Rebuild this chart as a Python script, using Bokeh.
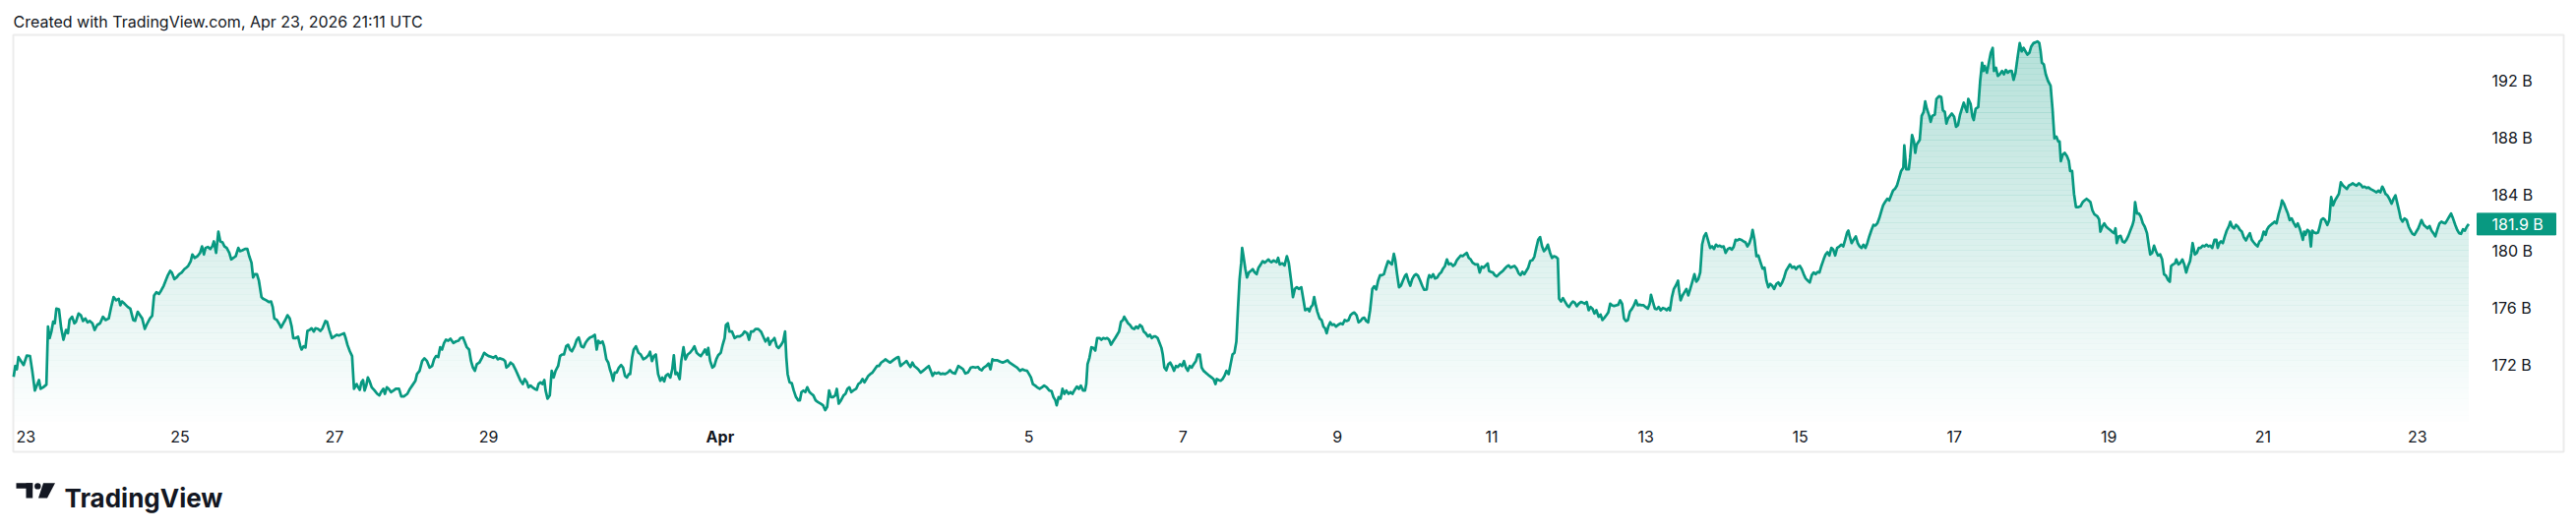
import numpy as np
from bokeh.plotting import figure
from bokeh.models import ColumnDataSource, Range1d
from bokeh.core.properties import value
from bokeh.embed import file_html
from bokeh.resources import INLINE

# ---- data: (hours since 2026-03-23 00:00, market cap in billions) ----
SEG_MAR23_26 = [
    (-3.8, 171.14), (-3.3, 171.90), (-2.8, 171.67), (-2.3, 172.53), (-1.5, 172.25), (-0.7, 171.97),
    (0.3, 172.64), (1.3, 172.60), (2.0, 171.56), (2.8, 170.17), (3.6, 170.63), (4.1, 170.91),
    (4.6, 170.29), (5.4, 170.40), (6.4, 170.59), (6.9, 174.68), (7.4, 173.87), (8.0, 174.37),
    (8.5, 175.02), (9.0, 174.91), (9.5, 175.94), (10.3, 175.90), (11.0, 174.56), (11.7, 173.75),
    (12.5, 174.44), (13.1, 174.21), (13.6, 175.14), (14.4, 175.37), (15.1, 174.91), (15.6, 175.02),
    (16.4, 175.60), (17.1, 175.48), (17.8, 175.07), (18.5, 175.25), (19.2, 174.97), (19.9, 175.07),
    (20.7, 174.91), (21.4, 174.44), (22.2, 174.79), (23.1, 174.91), (24.0, 175.37), (24.8, 175.14),
    (25.8, 175.25), (26.5, 176.00), (27.3, 176.76), (28.1, 176.53), (28.9, 176.64), (29.4, 176.18),
    (29.9, 176.45), (30.7, 176.29), (31.7, 176.06), (32.5, 175.94), (33.4, 175.14), (34.0, 175.09),
    (34.8, 175.72), (35.5, 175.48), (36.2, 175.25), (37.0, 174.51), (37.8, 174.91), (38.6, 175.25),
    (39.3, 175.44), (39.9, 176.87), (40.6, 177.10), (41.4, 176.98), (42.1, 177.22), (42.9, 177.56),
    (43.5, 177.91), (44.2, 178.30), (44.9, 178.60), (45.4, 178.49), (46.2, 178.02), (46.9, 178.14),
    (47.7, 178.37), (48.5, 178.49), (49.3, 178.72), (49.9, 178.83), (50.5, 178.95), (51.3, 179.29),
    (51.8, 179.76), (52.5, 179.52), (53.4, 179.64), (54.2, 179.87), (54.8, 180.33), (55.4, 179.76),
    (55.9, 180.22), (56.6, 180.29), (57.4, 180.15), (58.0, 180.33), (58.5, 180.68), (59.2, 179.87),
    (59.9, 181.37), (60.5, 180.68), (61.2, 180.61), (61.8, 180.33), (62.5, 180.22), (63.3, 179.87),
    (63.9, 179.41), (64.6, 179.52), (65.3, 179.64), (66.1, 180.22), (66.6, 179.99), (67.4, 180.06),
    (68.2, 180.15), (68.9, 180.15), (69.5, 179.64), (70.2, 179.18), (70.7, 178.14), (71.2, 178.37),
    (71.9, 178.37), (72.5, 177.91), (73.3, 176.76), (73.8, 176.64), (74.8, 176.53), (75.6, 176.41),
    (76.3, 176.45), (76.8, 176.06), (77.3, 175.25), (78.1, 175.14), (78.9, 174.84), (79.4, 174.61),
    (80.1, 174.91), (80.7, 175.14), (81.4, 175.48), (82.1, 175.25), (82.7, 174.68), (83.2, 173.87),
    (84.0, 173.87), (84.7, 173.96), (85.4, 173.29), (85.8, 173.06), (86.4, 173.29), (87.0, 173.20),
    (87.6, 174.37), (88.3, 174.44), (88.9, 174.56), (89.6, 174.33),
]
SEG_MAR26_30 = [
    (90.1, 174.56), (90.9, 174.51), (91.6, 174.37), (92.3, 174.56), (93.2, 175.07), (93.7, 175.02),
    (94.4, 174.44), (95.2, 173.87), (96.0, 173.98), (96.7, 174.10), (97.4, 174.05), (98.3, 174.14),
    (99.0, 174.21), (99.5, 173.87), (100.1, 173.36), (100.8, 172.94), (101.5, 172.60), (102.1, 170.29),
    (102.9, 170.63), (103.4, 170.40), (103.9, 170.22), (104.4, 170.75), (104.9, 170.91), (105.4, 170.17),
    (105.9, 170.52), (106.4, 171.09), (106.9, 170.86), (107.6, 170.40), (108.5, 170.17), (109.3, 169.94),
    (110.0, 169.83), (110.5, 170.06), (111.2, 170.29), (111.7, 169.94), (112.3, 170.40), (112.9, 170.29),
    (113.6, 170.06), (114.4, 170.17), (115.1, 170.29), (116.1, 170.29), (116.8, 169.76), (117.6, 169.76),
    (118.7, 169.94), (119.5, 170.29), (120.2, 170.52), (121.2, 170.86), (121.7, 171.33), (122.5, 171.56),
    (123.3, 172.25), (124.0, 172.44), (124.8, 172.25), (125.6, 171.79), (126.4, 171.90), (127.0, 172.37),
    (127.6, 172.60), (128.3, 172.53), (128.9, 173.22), (129.5, 173.06), (130.1, 173.52), (130.7, 173.75),
    (131.4, 173.68), (132.1, 173.82), (133.0, 173.52), (133.8, 173.63), (134.6, 173.68), (135.2, 173.87),
    (136.0, 173.91), (136.5, 173.63), (137.2, 173.22), (137.9, 173.06), (138.5, 172.25), (139.1, 171.79),
    (139.7, 171.56), (140.3, 172.02), (141.1, 172.14), (141.9, 172.48), (142.6, 172.83), (143.2, 172.71),
    (144.0, 172.60), (144.7, 172.55), (145.4, 172.48), (146.2, 172.60), (146.8, 172.37), (147.4, 172.44),
    (148.5, 172.37), (149.1, 172.25), (149.5, 171.79), (150.1, 171.90), (150.8, 172.14), (151.5, 172.02),
    (152.3, 171.67), (153.2, 171.21), (153.9, 170.86), (154.6, 170.63), (155.2, 170.98), (155.9, 170.75),
    (156.4, 170.40), (157.0, 170.52), (157.6, 170.40), (158.3, 170.29), (159.0, 170.22), (159.5, 170.63),
    (160.1, 170.75), (160.7, 170.63), (161.3, 170.91), (161.7, 170.17), (162.3, 169.60), (163.0, 169.83),
    (163.6, 171.56), (164.2, 171.09), (164.8, 171.56), (165.6, 171.90), (166.2, 172.60), (166.8, 172.71),
    (167.4, 172.71), (168.1, 173.29), (168.7, 173.40), (169.3, 173.06), (169.9, 172.94), (170.7, 173.29),
    (171.4, 173.75), (172.0, 173.91), (172.8, 173.29), (173.5, 173.22), (174.1, 173.52), (174.8, 173.75),
    (175.5, 173.91), (176.3, 173.98), (177.0, 174.10), (177.6, 173.06), (178.1, 173.68), (178.7, 173.52),
    (179.4, 173.63), (179.9, 173.29), (180.6, 172.37), (181.2, 172.14), (181.7, 171.67), (182.2, 171.33),
    (182.7, 170.86), (183.2, 171.44), (183.8, 171.44), (184.5, 171.79), (185.2, 171.97), (185.8, 171.79),
    (186.4, 171.21), (187.0, 171.09), (187.6, 171.33),
]
SEG_MAR30_APR04 = [
    (188.0, 171.33), (188.6, 172.48), (189.1, 173.06), (189.8, 173.29), (190.6, 172.83), (191.3, 172.71),
    (192.1, 172.37), (192.9, 172.48), (193.7, 172.66), (194.2, 172.90), (194.8, 172.25), (195.4, 172.60),
    (196.0, 172.71), (196.7, 171.33), (197.4, 170.86), (198.0, 171.09), (198.6, 170.82), (199.1, 171.21),
    (199.8, 171.33), (200.5, 171.09), (201.1, 171.67), (201.6, 172.66), (202.1, 171.33), (202.6, 171.44),
    (203.4, 170.98), (203.9, 172.25), (204.6, 173.22), (205.2, 172.37), (205.9, 172.71), (206.6, 172.83),
    (207.4, 173.06), (208.0, 173.29), (208.7, 172.83), (209.3, 172.71), (210.0, 172.60), (210.7, 172.83),
    (211.3, 173.06), (211.9, 172.71), (212.3, 173.17), (212.9, 172.25), (213.6, 171.79), (214.2, 171.90),
    (214.8, 172.37), (215.4, 172.66), (216.2, 172.83), (216.8, 173.40), (217.4, 173.87), (217.8, 174.79),
    (218.4, 174.91), (218.9, 174.33), (219.7, 174.33), (220.5, 173.87), (221.3, 173.98), (222.1, 173.98),
    (222.9, 174.10), (223.6, 174.33), (224.4, 174.21), (225.0, 173.75), (225.6, 174.33), (226.3, 174.33),
    (227.0, 174.51), (227.8, 174.51), (228.7, 174.33), (229.4, 173.98), (230.1, 173.63), (230.9, 173.87),
    (231.4, 173.40), (231.9, 173.63), (232.5, 173.75), (232.9, 173.87), (233.6, 173.29), (234.2, 173.17),
    (235.0, 173.40), (235.6, 173.63), (236.2, 174.33), (236.6, 172.48), (237.0, 171.33), (237.6, 170.75),
    (238.3, 170.68), (238.9, 170.17), (239.6, 169.71), (240.3, 169.48), (240.8, 169.48), (241.3, 170.06),
    (241.9, 170.17), (242.5, 170.06), (243.1, 170.40), (243.8, 170.06), (244.4, 169.94), (245.0, 169.83),
    (245.7, 169.48), (246.4, 169.36), (247.2, 169.25), (248.0, 169.13), (248.7, 168.79), (249.3, 169.02),
    (249.9, 170.17), (250.5, 169.71), (251.1, 169.71), (251.8, 169.83), (252.3, 170.29), (252.9, 169.25),
    (253.6, 169.48), (254.4, 169.83), (255.0, 169.94), (255.6, 170.29), (256.2, 170.40), (256.8, 170.06),
    (257.4, 170.17), (258.3, 170.29), (259.0, 170.63), (259.7, 170.75), (260.3, 170.98), (260.9, 170.75),
    (261.5, 170.98), (262.1, 171.21), (262.7, 171.33), (263.4, 171.44), (264.1, 171.67), (264.8, 171.90),
    (265.4, 171.90), (266.1, 172.14), (266.8, 172.25), (267.4, 172.37), (268.1, 172.25), (268.9, 172.14),
    (269.5, 172.25), (270.2, 172.37), (270.9, 172.48), (271.5, 172.53), (272.1, 171.90), (272.7, 172.02),
    (273.4, 172.14), (274.0, 172.25), (274.6, 172.02), (275.2, 171.83), (275.8, 172.14), (276.4, 171.90),
    (277.0, 171.79), (277.6, 171.67), (278.4, 171.44), (279.1, 171.56), (279.7, 171.67), (280.3, 171.79),
    (280.9, 171.90), (281.5, 171.56), (282.1, 171.21), (282.7, 171.44), (283.3, 171.37), (284.0, 171.44),
    (284.6, 171.33), (285.2, 171.37),
]
SEG_APR04_08 = [
    (286.0, 171.33), (286.8, 171.44), (287.5, 171.60), (288.2, 171.44), (289.1, 171.37), (290.1, 171.90),
    (290.9, 171.79), (291.6, 171.67), (292.3, 171.37), (293.1, 171.44), (294.0, 171.79), (294.7, 171.83),
    (295.4, 171.79), (296.2, 171.83), (296.8, 171.67), (297.4, 171.60), (298.0, 171.79), (298.8, 171.90),
    (299.5, 172.07), (300.1, 171.67), (300.7, 172.37), (301.3, 172.30), (302.3, 172.30), (303.1, 172.21),
    (303.9, 172.14), (304.6, 172.21), (305.4, 172.30), (306.0, 172.14), (306.8, 172.02), (307.6, 171.90),
    (308.4, 171.79), (309.3, 171.56), (310.0, 171.67), (310.7, 171.60), (311.5, 171.56), (312.1, 171.33),
    (312.7, 171.09), (313.3, 170.63), (314.0, 170.52), (314.6, 170.40), (315.4, 170.29), (316.1, 170.40),
    (316.8, 170.52), (317.6, 170.40), (318.4, 170.17), (319.1, 170.13), (319.7, 169.71), (320.3, 169.48),
    (320.7, 169.13), (321.3, 169.71), (321.9, 169.60), (322.5, 170.29), (323.1, 169.94), (323.7, 170.17),
    (324.4, 169.94), (325.0, 170.06), (325.6, 169.94), (326.3, 170.22), (327.0, 170.45), (327.6, 170.29),
    (328.2, 170.52), (328.9, 170.17), (329.5, 170.17), (329.9, 170.63), (330.3, 172.02), (330.9, 172.48),
    (331.5, 173.22), (332.1, 173.17), (332.7, 172.99), (333.3, 173.87), (334.0, 173.87), (334.6, 173.75),
    (335.2, 173.87), (335.8, 173.82), (336.4, 173.87), (337.0, 173.75), (337.6, 173.40), (338.2, 173.63),
    (338.9, 173.87), (339.5, 174.10), (340.1, 174.33), (340.7, 175.02), (341.3, 175.14), (341.7, 175.37),
    (342.3, 175.14), (342.9, 174.91), (343.5, 174.79), (344.2, 174.56), (344.8, 174.51), (345.4, 174.68),
    (346.0, 174.56), (346.6, 174.79), (347.2, 174.68), (347.8, 174.33), (348.4, 174.21), (349.1, 173.98),
    (349.7, 174.10), (350.3, 173.87), (350.9, 173.98), (351.5, 173.98), (352.1, 173.87), (352.7, 173.52),
    (353.3, 173.17), (353.7, 172.71), (354.2, 171.79), (354.8, 171.60), (355.4, 172.02), (356.0, 172.14),
    (356.6, 171.90), (357.2, 171.56), (357.8, 171.90), (358.4, 171.83), (359.1, 172.02), (359.7, 171.90),
    (360.3, 172.25), (360.9, 171.79), (361.5, 171.56), (362.1, 171.90), (362.7, 171.79), (363.3, 172.02),
    (364.0, 172.25), (364.6, 172.71), (365.2, 172.71), (365.8, 171.79), (366.4, 171.56), (367.0, 171.44),
    (367.6, 171.33), (368.2, 171.21), (368.9, 171.09), (369.5, 170.98), (370.1, 170.63), (370.5, 170.98),
    (371.1, 170.91), (371.7, 170.86), (372.3, 170.98), (372.9, 171.21), (373.5, 171.56), (374.2, 171.33),
    (374.8, 172.02), (375.4, 172.71), (376.0, 172.83), (376.6, 173.63), (377.1, 175.94), (377.6, 178.02),
    (378.1, 179.18), (378.4, 180.22), (378.8, 179.64), (379.4, 178.72), (379.9, 178.14), (380.5, 178.49),
    (381.1, 178.60), (381.7, 178.72), (382.3, 178.49), (382.9, 178.37), (383.5, 178.83), (384.2, 179.06),
    (384.8, 179.29), (385.4, 179.18), (386.0, 179.29), (386.6, 179.41), (387.0, 179.29),
]
SEG_APR08_12 = [
    (387.5, 179.22), (388.2, 179.34), (389.1, 179.22), (389.6, 179.52), (390.1, 179.06), (390.9, 179.13),
    (391.6, 178.99), (392.3, 179.64), (392.9, 179.18), (393.7, 177.79), (394.2, 176.76), (394.8, 177.33),
    (395.4, 177.45), (396.0, 177.33), (396.8, 177.45), (397.4, 176.64), (398.0, 175.83), (398.8, 175.94),
    (399.3, 175.76), (399.8, 176.06), (400.3, 176.18), (400.8, 176.76), (401.3, 176.18), (401.8, 175.72),
    (402.5, 175.25), (403.1, 175.14), (403.7, 174.68), (404.2, 174.56), (404.7, 174.21), (405.2, 174.68),
    (405.8, 174.98), (406.4, 174.79), (407.0, 174.84), (407.6, 174.68), (408.2, 174.79), (409.0, 174.91),
    (409.7, 174.84), (410.3, 175.14), (410.9, 175.07), (411.5, 175.14), (412.1, 175.48), (412.7, 175.60),
    (413.3, 175.67), (414.0, 175.48), (414.6, 174.98), (415.2, 175.07), (415.8, 175.25), (416.4, 175.30),
    (417.0, 175.07), (417.6, 174.98), (418.2, 175.83), (418.9, 177.33), (419.5, 177.52), (420.1, 177.29),
    (420.7, 177.91), (421.3, 178.30), (421.9, 178.30), (422.5, 178.37), (423.1, 178.83), (423.8, 179.29),
    (424.4, 179.18), (425.0, 179.06), (425.6, 179.80), (426.0, 179.41), (426.6, 178.37), (427.2, 177.45),
    (427.8, 177.56), (428.4, 177.91), (429.1, 178.26), (429.5, 178.37), (430.1, 177.91), (430.7, 177.56),
    (431.3, 178.02), (431.9, 178.26), (432.5, 178.37), (433.1, 178.26), (433.8, 177.91), (434.4, 177.56),
    (435.0, 177.27), (435.8, 177.29), (436.2, 177.98), (436.6, 178.30), (437.2, 178.14), (437.8, 178.37),
    (438.4, 178.07), (439.1, 178.14), (439.7, 178.37), (440.3, 178.49), (440.9, 178.76), (441.5, 178.95),
    (442.1, 179.41), (442.7, 179.06), (443.3, 179.13), (444.0, 178.95), (444.6, 179.06), (445.2, 179.36),
    (445.8, 179.52), (446.4, 179.69), (447.0, 179.64), (447.6, 179.76), (448.3, 179.87), (448.9, 179.52),
    (449.5, 179.41), (450.1, 179.18), (450.9, 179.06), (451.7, 179.06), (452.3, 178.49), (452.9, 178.90),
    (453.5, 178.83), (454.2, 178.99), (454.8, 179.13), (455.2, 178.60), (455.8, 178.53), (456.4, 178.49),
    (457.0, 178.30), (457.6, 178.21), (458.3, 178.37), (458.9, 178.49), (459.5, 178.60), (460.1, 178.76),
    (460.7, 178.90), (461.3, 178.99), (461.9, 178.83), (462.5, 178.90), (463.1, 178.95), (463.8, 178.76),
    (464.4, 178.44), (465.0, 178.30), (465.6, 178.53), (466.2, 178.37), (466.8, 178.60), (467.4, 178.83),
    (468.0, 179.29), (468.7, 179.36), (469.3, 179.60), (469.9, 180.22), (470.5, 180.79), (471.1, 180.98),
    (471.7, 180.33), (472.3, 179.99), (472.9, 180.15), (473.5, 180.45), (474.2, 179.87), (474.8, 179.52),
    (475.4, 179.64), (476.0, 179.59), (476.6, 179.46), (477.0, 176.64), (477.6, 176.45), (478.2, 176.69),
    (478.9, 176.41), (479.5, 176.18), (480.1, 176.06), (480.7, 176.29), (481.3, 176.45), (481.9, 176.36),
    (482.5, 176.11), (483.1, 176.29), (483.8, 176.41), (484.4, 176.36),
]
SEG_APR12_16 = [
    (485.0, 176.29), (485.6, 176.41), (486.2, 175.83), (486.8, 176.06), (487.4, 175.94), (488.0, 175.60),
    (488.6, 175.83), (489.3, 175.37), (489.9, 175.53), (490.5, 175.14), (491.1, 175.30), (491.7, 175.48),
    (492.3, 175.67), (492.9, 176.29), (493.5, 176.18), (494.1, 176.13), (494.8, 176.18), (495.4, 176.22),
    (496.0, 176.53), (496.6, 176.29), (497.2, 175.25), (497.8, 175.07), (498.4, 175.14), (499.0, 175.72),
    (499.7, 175.94), (500.3, 176.18), (500.9, 176.53), (501.5, 176.18), (502.1, 176.22), (502.7, 176.18),
    (503.3, 176.18), (503.9, 176.06), (504.6, 175.94), (505.2, 176.29), (505.6, 176.92), (506.2, 176.41),
    (506.8, 175.94), (507.4, 175.90), (508.0, 176.06), (508.6, 175.83), (509.3, 175.99), (509.9, 175.94),
    (510.5, 175.83), (511.1, 175.99), (511.5, 175.83), (512.1, 176.76), (512.7, 177.33), (513.3, 177.56),
    (514.0, 177.91), (514.4, 177.10), (514.8, 176.53), (515.4, 176.87), (516.0, 177.10), (516.6, 177.33),
    (517.2, 176.87), (517.8, 177.33), (518.4, 177.79), (519.1, 178.37), (519.7, 177.84), (520.3, 178.02),
    (520.9, 178.49), (521.5, 180.45), (522.1, 181.03), (522.7, 181.26), (523.3, 180.79), (524.0, 180.22),
    (524.6, 180.33), (525.2, 180.15), (525.8, 180.45), (526.4, 180.33), (527.0, 180.38), (527.6, 180.29),
    (528.2, 180.33), (528.8, 179.87), (529.5, 180.15), (530.1, 180.22), (530.7, 180.10), (531.3, 180.29),
    (531.9, 180.79), (532.5, 180.75), (533.1, 180.84), (533.7, 180.79), (534.4, 180.68), (535.0, 180.61),
    (535.6, 180.33), (536.2, 180.56), (536.8, 180.98), (537.2, 181.49), (537.8, 180.79), (538.4, 179.64),
    (539.0, 179.69), (539.7, 179.18), (540.3, 178.76), (540.9, 178.83), (541.5, 177.91), (542.1, 177.45),
    (542.7, 177.68), (543.3, 177.56), (543.9, 177.33), (544.6, 177.68), (545.2, 177.79), (545.8, 177.56),
    (546.4, 177.79), (547.0, 178.14), (547.6, 178.60), (548.2, 178.83), (548.8, 179.06), (549.5, 178.83),
    (550.1, 178.90), (550.7, 178.72), (551.3, 178.90), (551.9, 178.95), (552.5, 178.72), (553.1, 178.37),
    (553.7, 178.07), (554.4, 177.91), (555.0, 177.79), (555.6, 178.30), (556.2, 178.49), (556.8, 178.37),
    (557.4, 178.53), (558.0, 178.49), (558.6, 178.95), (559.3, 179.41), (559.9, 179.76), (560.5, 179.92),
    (561.1, 179.69), (561.7, 180.22), (562.3, 180.10), (562.9, 179.69), (563.5, 180.22), (564.2, 180.33),
    (564.8, 180.45), (565.4, 180.33), (566.0, 180.79), (566.6, 181.30), (567.0, 181.44), (567.4, 181.03),
    (568.0, 180.56), (568.6, 180.79), (569.3, 181.03), (569.9, 180.56), (570.5, 180.33), (571.1, 180.22),
    (571.7, 180.45), (572.3, 180.22), (572.9, 180.56), (573.5, 181.03), (574.2, 181.49), (574.8, 181.84),
    (575.4, 181.79), (576.0, 181.95), (576.6, 182.30), (577.2, 182.76), (577.8, 183.22), (578.4, 183.45),
    (579.1, 183.68), (579.7, 183.57), (580.3, 183.92), (580.9, 184.26), (581.5, 184.38), (582.1, 184.61),
    (582.7, 185.07),
]
SEG_APR16_20 = [
    (583.4, 185.64), (584.1, 185.88), (584.4, 187.45), (585.0, 185.76), (585.8, 185.76), (586.2, 186.57),
    (586.8, 188.18), (587.4, 187.72), (587.8, 186.92), (588.2, 187.49), (589.2, 187.84), (589.8, 189.52),
    (590.4, 189.80), (590.9, 190.54), (591.4, 190.03), (592.1, 189.57), (592.6, 189.11), (593.1, 189.52),
    (593.9, 189.62), (594.4, 190.72), (595.2, 190.91), (595.9, 190.84), (596.4, 189.92), (597.0, 189.80),
    (597.5, 188.99), (598.0, 189.34), (598.6, 189.52), (599.2, 189.69), (599.9, 189.46), (600.5, 188.76),
    (601.1, 188.88), (601.7, 189.57), (602.3, 190.03), (602.9, 190.45), (603.5, 190.03), (603.9, 189.80),
    (604.3, 190.72), (605.0, 190.38), (605.6, 189.46), (606.0, 189.23), (606.6, 190.03), (607.4, 190.15),
    (608.0, 191.99), (608.6, 193.27), (609.0, 192.69), (609.4, 193.04), (610.1, 192.57), (610.7, 193.27),
    (611.3, 193.96), (611.9, 194.31), (612.3, 192.69), (612.9, 192.92), (613.5, 192.34), (614.1, 192.46),
    (614.8, 192.69), (615.4, 192.46), (616.0, 192.76), (616.6, 192.57), (617.2, 192.69), (617.8, 192.69),
    (618.4, 192.07), (619.0, 192.57), (619.7, 193.73), (620.3, 194.65), (620.9, 194.07), (621.5, 194.31),
    (622.1, 194.07), (622.7, 193.84), (623.3, 193.96), (623.9, 194.42), (624.6, 194.65), (625.2, 194.70),
    (625.8, 194.77), (626.4, 194.65), (626.8, 194.07), (627.2, 193.27), (627.8, 193.15), (628.4, 192.46),
    (629.1, 191.99), (629.9, 191.65), (630.5, 190.03), (631.1, 187.95), (631.7, 188.07), (632.3, 187.72),
    (632.7, 187.72), (633.1, 186.34), (633.7, 186.80), (634.3, 186.92), (635.0, 186.69), (635.6, 186.34),
    (636.0, 185.64), (636.6, 185.64), (637.2, 184.03), (637.8, 183.10), (638.6, 183.10), (639.2, 183.15),
    (639.9, 183.45), (640.5, 183.57), (641.1, 183.68), (641.7, 183.57), (642.3, 183.45), (642.9, 182.88),
    (643.5, 182.60), (644.4, 182.46), (645.0, 182.23), (645.4, 181.37), (646.0, 181.72), (646.6, 181.95),
    (647.2, 181.72), (647.8, 181.60), (648.4, 181.49), (649.0, 181.37), (649.7, 181.26), (650.1, 181.60),
    (650.5, 180.56), (651.1, 181.03), (651.7, 181.07), (652.3, 180.68), (652.9, 180.61), (653.5, 180.79),
    (654.1, 181.07), (654.8, 181.49), (655.4, 181.84), (655.8, 182.18), (656.2, 183.45), (656.8, 182.64),
    (657.4, 182.64), (658.0, 182.41), (658.6, 181.95), (659.2, 181.72), (659.9, 181.26), (660.5, 180.33),
    (660.9, 179.76), (661.5, 179.87), (662.1, 180.38), (662.7, 179.99), (663.3, 179.69), (664.0, 179.76),
    (664.6, 179.41), (665.2, 178.37), (665.8, 178.26), (666.4, 177.98), (667.0, 177.84), (667.4, 178.95),
    (668.0, 179.06), (668.6, 179.13), (669.0, 179.41), (669.7, 179.06), (670.3, 179.18), (670.9, 179.41),
    (671.5, 179.06), (672.1, 178.49), (672.7, 178.95), (673.3, 179.29), (673.7, 179.87), (674.1, 180.56),
    (674.8, 179.76), (675.4, 179.87), (676.0, 180.22), (676.6, 180.22), (677.2, 180.38), (677.8, 180.33),
    (678.4, 180.45), (679.0, 180.33), (679.6, 180.38), (680.2, 180.22), (680.9, 180.79),
]
SEG_APR20_23 = [
    (681.5, 180.79), (681.9, 180.22), (682.4, 180.56), (682.9, 180.68), (683.5, 180.56), (684.1, 181.03),
    (684.7, 181.44), (685.4, 181.76), (685.8, 182.06), (686.4, 181.72), (687.0, 181.60), (687.6, 181.84),
    (688.2, 181.72), (688.8, 181.49), (689.4, 181.37), (690.0, 180.98), (690.7, 180.75), (691.3, 181.03),
    (691.9, 181.26), (692.5, 180.79), (693.1, 180.61), (693.7, 180.45), (694.3, 180.33), (694.9, 180.68),
    (695.5, 180.79), (696.2, 181.37), (696.8, 181.14), (697.2, 181.49), (697.8, 181.72), (698.4, 181.84),
    (699.0, 181.95), (699.6, 182.07), (700.2, 181.95), (700.9, 182.65), (701.5, 183.11), (701.9, 183.57),
    (702.5, 183.34), (703.1, 182.99), (703.7, 182.65), (704.3, 182.18), (704.9, 182.30), (705.6, 181.95),
    (706.2, 181.72), (706.8, 181.95), (707.4, 181.60), (708.0, 181.14), (708.4, 180.79), (708.8, 181.37),
    (709.2, 181.14), (709.8, 181.49), (710.4, 181.37), (710.9, 180.33), (711.3, 181.44), (711.9, 181.30),
    (712.5, 181.26), (713.1, 181.30), (713.5, 181.60), (714.1, 182.18), (714.7, 182.30), (715.3, 182.18),
    (716.0, 181.84), (716.6, 182.18), (717.2, 183.80), (717.8, 183.22), (718.4, 183.57), (719.0, 183.80),
    (719.6, 184.03), (720.2, 184.84), (720.9, 184.61), (721.5, 184.49), (722.1, 184.38), (722.7, 184.61),
    (723.3, 184.68), (723.9, 184.77), (724.5, 184.68), (725.1, 184.61), (725.8, 184.77), (726.4, 184.68),
    (727.0, 184.49), (727.6, 184.54), (728.2, 184.44), (728.8, 184.49), (729.4, 184.38), (730.0, 184.31),
    (730.7, 184.22), (731.3, 184.14), (731.9, 184.26), (732.5, 184.14), (733.1, 184.54), (733.5, 184.38),
    (734.1, 184.03), (734.7, 183.92), (735.3, 183.68), (736.0, 183.34), (736.6, 183.68), (737.2, 183.92),
    (737.8, 183.34), (738.4, 182.76), (738.8, 182.30), (739.4, 182.07), (740.0, 182.30), (740.7, 182.18),
    (741.3, 181.72), (741.9, 181.44), (742.5, 181.21), (743.1, 181.14), (743.7, 181.37), (744.3, 181.60),
    (744.9, 181.95), (745.3, 182.18), (746.0, 181.84), (746.6, 181.72), (747.2, 181.60), (747.8, 181.76),
    (748.4, 181.44), (749.0, 181.26), (749.6, 181.03), (750.2, 181.49), (750.9, 181.95), (751.5, 182.07),
    (752.1, 181.99), (752.7, 181.95), (753.3, 182.18), (753.9, 182.41), (754.5, 182.64), (755.1, 182.30),
    (755.8, 181.84), (756.4, 181.49), (757.0, 181.26), (757.6, 181.21), (758.2, 181.53), (758.8, 181.44),
    (759.4, 181.72), (760.0, 181.90),
]

TIME_TICKS = [0, 48, 96, 144, 216, 312, 360, 408, 456, 504, 552, 600, 648, 696, 744]
TIME_LABELS = ["23", "25", "27", "29", "Apr", "5", "7", "9", "11", "13", "15", "17", "19", "21", "23"]
MONTH_LABEL = "Apr"
PRICE_TICKS = [172, 176, 180, 184, 188, 192]
PRICE_LABELS = ["172 B", "176 B", "180 B", "184 B", "188 B", "192 B"]
LAST_PRICE_LABEL = "181.9 B"
HEADER = "Created with TradingView.com, Apr 23, 2026 21:11 UTC"
BRAND = "TradingView"

SERIES = (SEG_MAR23_26 + SEG_MAR26_30 + SEG_MAR30_APR04 + SEG_APR04_08 +
          SEG_APR08_12 + SEG_APR12_16 + SEG_APR16_20 + SEG_APR20_23)
HOURS = np.array([p[0] for p in SERIES])
MCAP = np.array([p[1] for p in SERIES])

# ---- layout (canvas pixels) ----
W, H = 2618, 540
GREEN = "#089981"
TEXT = "#131722"
FONT = value("Inter")
PANE_L, PANE_R, PANE_T, PANE_B = 14, 2517, 36, 428     # plotting pane in canvas px
H_L, H_R = -3.6, 762.6                                   # visible hours in the pane
Y_B, Y_T = 168.0, 195.16                                 # visible values in the pane
sx = (PANE_R - PANE_L) / (H_R - H_L)
sy = (PANE_B - PANE_T) / (Y_T - Y_B)
x_range = Range1d(H_L - PANE_L / sx, H_R + (W - PANE_R) / sx)
y_range = Range1d(Y_B - (H - PANE_B) / sy, Y_T + PANE_T / sy)

p = figure(width=W, height=H, x_range=x_range, y_range=y_range, output_backend="svg",
           toolbar_location=None, x_axis_location=None, y_axis_location=None,
           min_border=0, background_fill_color="white", border_fill_color="white",
           outline_line_color=None)
p.grid.grid_line_color = None
p.extra_x_ranges = {"px": Range1d(0, W)}
p.extra_y_ranges = {"px": Range1d(H, 0)}

# outer chart border
p.quad(left=13, right=2605, top=35, bottom=459, x_range_name="px", y_range_name="px",
       fill_alpha=0, line_color="#ececec", line_width=2)

# gradient area fill from stacked bands
N = 70
levels = np.linspace(Y_B, Y_T, N + 1)
for i in range(N):
    lo, hi = levels[i], levels[i + 1]
    top = np.clip(MCAP, lo, hi + 0.02)
    frac = (0.5 * (lo + hi) - Y_B) / (Y_T - Y_B)
    p.varea(x=HOURS, y1=np.full_like(MCAP, lo), y2=top, fill_color=GREEN,
            fill_alpha=0.005 + 0.30 * frac)

src = ColumnDataSource(dict(h=HOURS, v=MCAP))
p.line(x="h", y="v", source=src, line_color=GREEN, line_width=2.7, line_join="round")

# time scale labels
reg = [i for i, l in enumerate(TIME_LABELS) if l != MONTH_LABEL]
mon = [i for i, l in enumerate(TIME_LABELS) if l == MONTH_LABEL]
p.text(x=[TIME_TICKS[i] for i in reg], y=[443] * len(reg), y_range_name="px",
       text=[TIME_LABELS[i] for i in reg], text_font=FONT, text_font_size="16px",
       text_color=TEXT, text_align="center", text_baseline="middle")
p.text(x=[TIME_TICKS[i] for i in mon], y=[443] * len(mon), y_range_name="px",
       text=[TIME_LABELS[i] for i in mon], text_font=FONT, text_font_size="16px",
       text_font_style="bold", text_color=TEXT, text_align="center", text_baseline="middle")

# price scale labels
p.text(x=[2532] * len(PRICE_TICKS), x_range_name="px", y=PRICE_TICKS, text=PRICE_LABELS,
       text_font=FONT, text_font_size="16px", text_color=TEXT, text_align="left",
       text_baseline="middle")

# last value badge
last = float(MCAP[-1])
p.rect(x=[2557], y=[last], width=80, height=22, height_units="screen", x_range_name="px",
       fill_color=GREEN, line_color=GREEN)
p.text(x=[2532], y=[last], x_range_name="px", text=[LAST_PRICE_LABEL], text_font=FONT,
       text_font_size="16px", text_color="white", text_align="left", text_baseline="middle")

# header
p.text(x=[13], y=[21], x_range_name="px", y_range_name="px", text=[HEADER], text_font=FONT,
       text_font_size="16px", text_color=TEXT, text_align="left", text_baseline="middle")

# footer logo
LOGO = "#131722"
p.quad(left=[16, 26], right=[32.7, 32.7], top=[490.7, 490.7], bottom=[496.3, 506],
       x_range_name="px", y_range_name="px", fill_color=LOGO, line_color=None)
p.circle(x=[37.8], y=[493.9], radius=3.2, x_range_name="px", y_range_name="px",
         fill_color=LOGO, line_color=None)
p.patch(x=[43.5, 55.5, 47.5, 38.5], y=[490.7, 490.7, 506, 506], x_range_name="px",
        y_range_name="px", fill_color=LOGO, line_color=None)
p.text(x=[65], y=[506], x_range_name="px", y_range_name="px", text=[BRAND], text_font=FONT,
       text_font_size="26px", text_font_style="bold", text_color=LOGO, text_align="left",
       text_baseline="alphabetic")

open("out.html", "w").write(file_html(p, INLINE))
